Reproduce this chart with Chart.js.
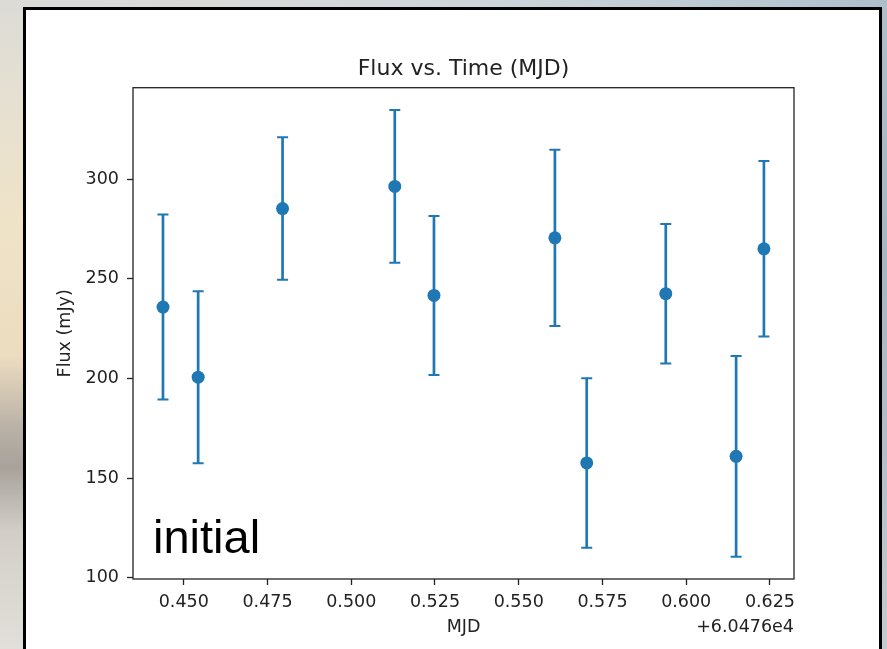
<!DOCTYPE html>
<html>
<head>
<meta charset="utf-8">
<title>Flux vs. Time (MJD)</title>
<script src="https://cdn.jsdelivr.net/npm/chart.js@4.4.1/dist/chart.umd.min.js"></script>
<style>
  html, body { margin: 0; padding: 0; }
  body { width: 887px; height: 649px; overflow: hidden; position: relative; background: #cfd5d8; }
  /* blurred photo behind the screenshot, roughly */
  #bgLeft { position: absolute; left: 0; top: 0; width: 30px; height: 649px;
    background: linear-gradient(to bottom, #dcdbd6 0%, #e6e0d2 15%, #efe3c7 35%, #ecdcc0 55%, #b9b1a6 66%, #a8a29b 72%, #d3cfc8 82%, #e2dfda 100%); }
  #bgTop { position: absolute; left: 0; top: 0; width: 887px; height: 12px;
    background: linear-gradient(to right, #dcdbd6 0%, #d8dad8 25%, #ccd5da 55%, #bccad3 80%, #aebfca 100%); }
  #bgRight { position: absolute; right: 0; top: 0; width: 10px; height: 649px;
    background: linear-gradient(to bottom, #aebfca 0%, #a6b6c2 40%, #b2bfc8 70%, #c4cbd0 100%); }
  #panel { position: absolute; left: 23px; top: 7px; width: 859px; height: 700px;
    box-sizing: border-box; border: 3px solid #000; background: #fff; }
  #fluxChart { position: absolute; left: 0; top: 0; }
  #stamp { position: absolute; left: 153px; top: 513px; font-family: "Liberation Sans", Arial, sans-serif;
    font-size: 47px; line-height: 1; color: #000; }
</style>
</head>
<body>
<div id="bgLeft"></div>
<div id="bgTop"></div>
<div id="bgRight"></div>
<div id="panel"></div>
<canvas id="fluxChart" width="887" height="649"></canvas>
<div id="stamp">initial</div>
<script>
// MJD values are shown relative to this offset (matplotlib offset text)
const mjdOffset = 60476;

const mjd = [0.4438, 0.4543, 0.4795, 0.5130, 0.5247, 0.5608, 0.5703, 0.5939, 0.6149, 0.6232];
const flux = [235.8, 200.6, 285.2, 296.3, 241.6, 270.5, 157.6, 242.5, 160.9, 265.0];
const fluxErr = [46.4, 43.1, 35.7, 38.3, 39.9, 44.2, 42.5, 35.0, 50.3, 44.0];

const xTicks = [0.450, 0.475, 0.500, 0.525, 0.550, 0.575, 0.600, 0.625];
const yTicks = [100, 150, 200, 250, 300];

const blue = "#1f77b4";
const ink = "#222";
const font = { family: "DejaVu Sans", size: 17.5, weight: "normal" };

// vertical error bars with caps, drawn under the markers
const errorBars = {
  id: "errorBars",
  beforeDatasetsDraw(chart) {
    const { ctx, scales: { x, y } } = chart;
    ctx.save();
    ctx.strokeStyle = blue;
    for (let i = 0; i < mjd.length; i++) {
      const px = x.getPixelForValue(mjd[i]);
      const top = y.getPixelForValue(flux[i] + fluxErr[i]);
      const bot = y.getPixelForValue(flux[i] - fluxErr[i]);
      ctx.lineWidth = 2.7;
      ctx.beginPath();
      ctx.moveTo(px, top);
      ctx.lineTo(px, bot);
      ctx.stroke();
      ctx.lineWidth = 2;
      ctx.beginPath();
      ctx.moveTo(px - 5.5, top);
      ctx.lineTo(px + 5.5, top);
      ctx.moveTo(px - 5.5, bot);
      ctx.lineTo(px + 5.5, bot);
      ctx.stroke();
    }
    ctx.restore();
  },
};

// box around the axes, like matplotlib spines
const frame = {
  id: "frame",
  afterDatasetsDraw(chart) {
    const { ctx, chartArea: a } = chart;
    ctx.save();
    ctx.strokeStyle = ink;
    ctx.lineWidth = 1.3;
    ctx.strokeRect(a.left, a.top, a.right - a.left, a.bottom - a.top);
    ctx.restore();
  },
};

// "+6.0476e4" under the right end of the x axis
const offsetText = {
  id: "offsetText",
  afterDraw(chart) {
    const { ctx, chartArea: a, scales: { x } } = chart;
    ctx.save();
    ctx.font = font.size + 'px "' + font.family + '"';
    ctx.fillStyle = ink;
    ctx.textAlign = "right";
    ctx.textBaseline = "middle";
    ctx.fillText("+" + (mjdOffset / 1e4).toFixed(4) + "e4", a.right, x.bottom - 22);
    ctx.restore();
  },
};

new Chart(document.getElementById("fluxChart"), {
  type: "scatter",
  data: {
    datasets: [
      {
        label: "Flux",
        data: mjd.map((t, i) => ({ x: t, y: flux[i] })),
        backgroundColor: blue,
        borderWidth: 0,
        pointRadius: 6.5,
        pointHoverRadius: 6.5,
      },
    ],
  },
  options: {
    responsive: false,
    animation: false,
    devicePixelRatio: 1,
    layout: { padding: { left: 0, right: 93, top: 0, bottom: 0 } },
    plugins: {
      legend: { display: false },
      tooltip: { enabled: false },
      title: {
        display: true,
        fullSize: false,
        text: "Flux vs. Time (MJD)",
        color: ink,
        font: { family: "DejaVu Sans", size: 22, weight: "normal" },
        padding: { top: 55.8, bottom: 5.5 },
      },
    },
    scales: {
      x: {
        type: "linear",
        min: 0.43485,
        max: 0.63218,
        afterBuildTicks: (s) => { s.ticks = xTicks.map((v) => ({ value: v })); },
        afterFit: (s) => { s.height = 70; },
        ticks: {
          callback: (v) => Number(v).toFixed(3),
          color: ink,
          font: font,
          padding: 7,
          autoSkip: false,
          maxRotation: 0,
        },
        grid: { drawOnChartArea: false, drawTicks: true, tickLength: 6, tickColor: ink, tickWidth: 1.3 },
        border: { display: false },
        title: { display: true, text: "MJD", color: ink, font: font, padding: { top: 0, bottom: 11 } },
      },
      y: {
        type: "linear",
        min: 99.4,
        max: 345.8,
        afterBuildTicks: (s) => { s.ticks = yTicks.map((v) => ({ value: v })); },
        afterFit: (s) => { s.width = 133; },
        ticks: { color: ink, font: font, padding: 8 },
        grid: { drawOnChartArea: false, drawTicks: true, tickLength: 6, tickColor: ink, tickWidth: 1.3 },
        border: { display: false },
        title: { display: true, text: "Flux (mJy)", color: ink, font: font, padding: { top: 55, bottom: 0 } },
      },
    },
  },
  plugins: [errorBars, frame, offsetText],
});
</script>
</body>
</html>
